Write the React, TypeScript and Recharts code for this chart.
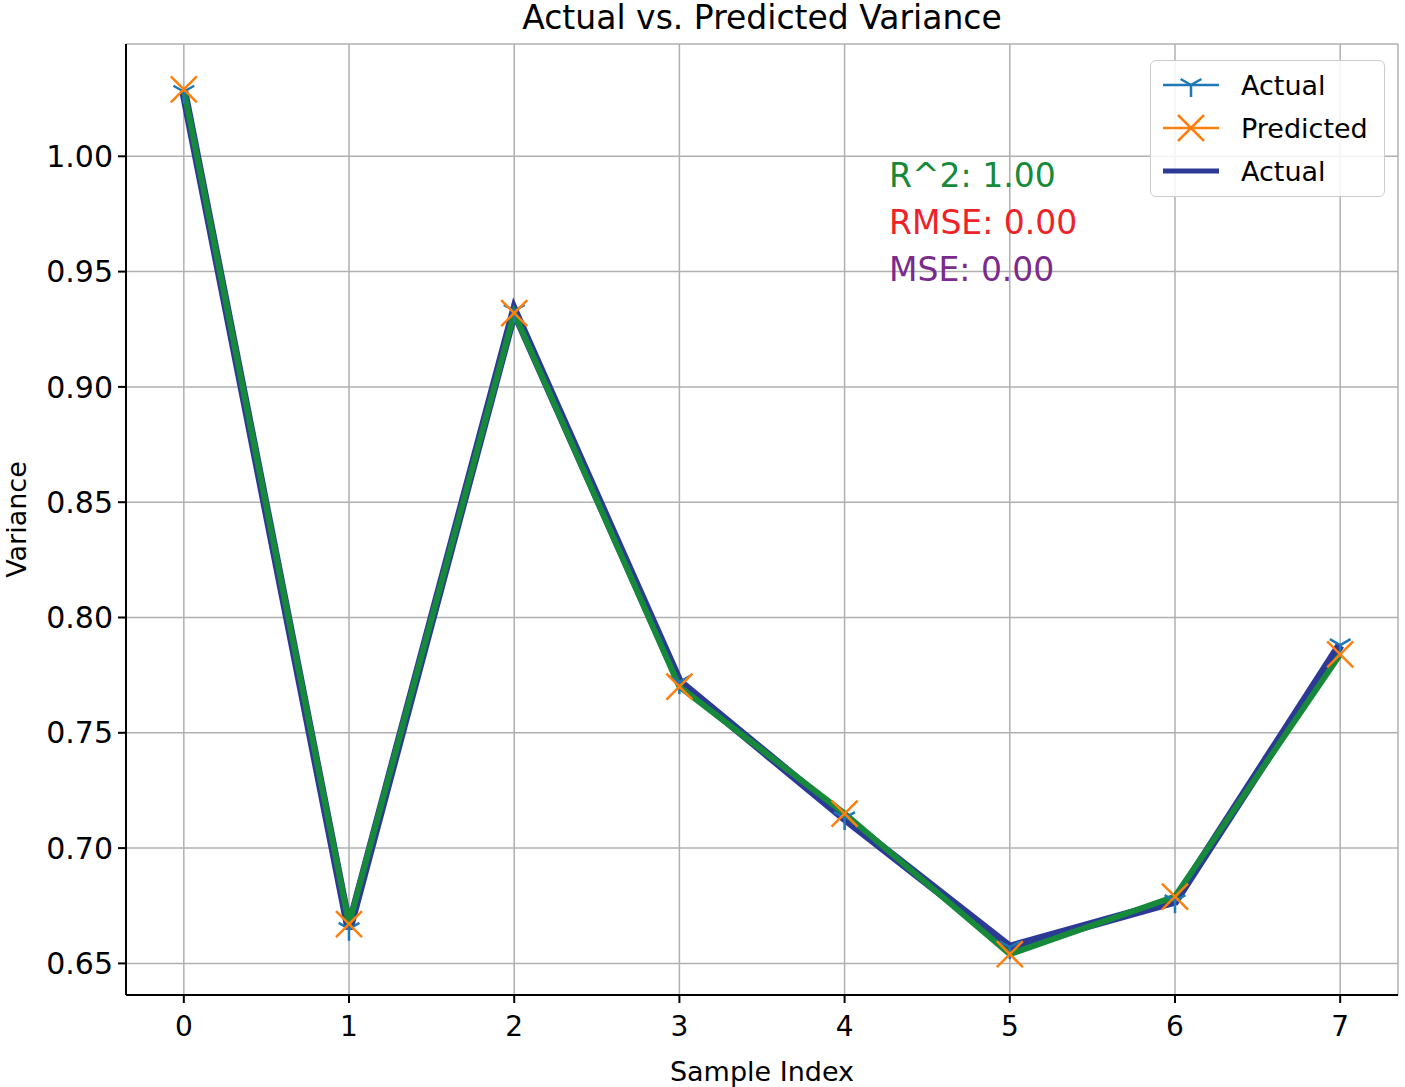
import React from 'react';
import { LineChart, Line, XAxis, YAxis, CartesianGrid } from 'recharts';

const sampleIndex = [0, 1, 2, 3, 4, 5, 6, 7];
const actualVariance = [1.028, 0.665, 0.933, 0.772, 0.713, 0.657, 0.677, 0.788];
const predictedVariance = [1.029, 0.667, 0.932, 0.770, 0.715, 0.654, 0.679, 0.784];
const xTicks = [0, 1, 2, 3, 4, 5, 6, 7];
const yTicks = [0.65, 0.7, 0.75, 0.8, 0.85, 0.9, 0.95, 1.0];
const legendRows = [
  { name: 'Actual', kind: 'tri' },
  { name: 'Predicted', kind: 'x' },
  { name: 'Actual', kind: 'thick' },
];
const metrics = [
  { label: 'R^2: 1.00', color: '#158a3a' },
  { label: 'RMSE: 0.00', color: '#ee2228' },
  { label: 'MSE: 0.00', color: '#7a2b8c' },
];

const BLUE = '#1f77b4';
const ORANGE = '#ff7f0e';
const NAVY = '#2c3a96';
const GREEN = '#16893a';
const FONT = '"DejaVu Sans", sans-serif';

const data = sampleIndex.map((idx, i) => ({
  index: idx,
  actual: actualVariance[i],
  predicted: predictedVariance[i],
}));

const TriDown = (props: any) => {
  const { cx, cy } = props;
  if (cx == null || cy == null) return null;
  const r = 12;
  return (
    <g stroke={BLUE} strokeWidth={2.5}>
      <line x1={cx} y1={cy} x2={cx} y2={cy + r} />
      <line x1={cx} y1={cy} x2={cx - 0.866 * r} y2={cy - 0.5 * r} />
      <line x1={cx} y1={cy} x2={cx + 0.866 * r} y2={cy - 0.5 * r} />
    </g>
  );
};

const XMark = (props: any) => {
  const { cx, cy } = props;
  if (cx == null || cy == null) return null;
  const r = 13;
  return (
    <g stroke={ORANGE} strokeWidth={2.5}>
      <line x1={cx - r} y1={cy - r} x2={cx + r} y2={cy + r} />
      <line x1={cx - r} y1={cy + r} x2={cx + r} y2={cy - r} />
    </g>
  );
};

// legend drawn by hand, sits over the top-right of the plot
const LegendBox = () => (
  <div
    style={{
      position: 'absolute',
      left: 1150,
      top: 60,
      width: 235,
      height: 137,
      border: '1.5px solid #cccccc',
      borderRadius: 6,
      background: 'rgba(255,255,255,0.85)',
      fontSize: 27,
      color: '#000',
      boxSizing: 'border-box',
    }}
  >
    {legendRows.map((row, i) => (
      <div key={i} style={{ display: 'flex', alignItems: 'center', height: 43, marginTop: i === 0 ? 3 : 0 }}>
        <svg width={88} height={43}>
          {row.kind === 'tri' && (
            <g stroke={BLUE} strokeWidth={2.5}>
              <line x1={12} y1={21} x2={68} y2={21} />
              <line x1={40} y1={21} x2={40} y2={33} />
              <line x1={40} y1={21} x2={29.6} y2={15} />
              <line x1={40} y1={21} x2={50.4} y2={15} />
            </g>
          )}
          {row.kind === 'x' && (
            <g stroke={ORANGE} strokeWidth={2.5}>
              <line x1={12} y1={21} x2={68} y2={21} />
              <line x1={27} y1={8} x2={53} y2={34} />
              <line x1={27} y1={34} x2={53} y2={8} />
            </g>
          )}
          {row.kind === 'thick' && <line x1={12} y1={21} x2={68} y2={21} stroke={NAVY} strokeWidth={5} />}
        </svg>
        <span style={{ marginLeft: 2 }}>{row.name}</span>
      </div>
    ))}
  </div>
);

export default function App() {
  return (
    <div style={{ position: 'absolute', left: 0, top: 0, width: 1405, height: 1087, background: '#fff', fontFamily: FONT }}>
      <div
        style={{
          position: 'absolute',
          top: -1,
          left: 126,
          width: 1272,
          textAlign: 'center',
          fontSize: 33,
          lineHeight: '38px',
          color: '#000',
        }}
      >
        Actual vs. Predicted Variance
      </div>
      <LineChart width={1405} height={1087} data={data} margin={{ top: 44, right: 7, bottom: 0, left: 0 }}>
        <CartesianGrid stroke="#b0b0b0" strokeWidth={1.5} />
        <XAxis
          dataKey="index"
          type="number"
          domain={[-0.35, 7.35]}
          ticks={xTicks}
          allowDataOverflow
          height={92}
          tickSize={8}
          tickMargin={13}
          tick={{ fontSize: 28, fill: '#000', fontFamily: FONT }}
          stroke="#000"
          strokeWidth={2}
          label={{ value: 'Sample Index', position: 'insideBottom', offset: 6, fontSize: 27, fill: '#000', fontFamily: FONT }}
        />
        <XAxis xAxisId="top" orientation="top" type="number" domain={[-0.35, 7.35]} height={0} tick={false} tickLine={false} stroke="#000" strokeWidth={2} />
        <YAxis
          type="number"
          domain={[0.6363, 1.0487]}
          ticks={yTicks}
          allowDataOverflow
          width={126}
          tickSize={8}
          tickMargin={5}
          tickFormatter={(v: number) => v.toFixed(2)}
          tick={{ fontSize: 30, fill: '#000', fontFamily: FONT }}
          stroke="#000"
          strokeWidth={2}
          label={{ value: 'Variance', angle: -90, position: 'insideLeft', offset: 16, fontSize: 27, fill: '#000', fontFamily: FONT, style: { textAnchor: 'middle' } }}
        />
        <YAxis yAxisId="right" orientation="right" type="number" domain={[0.6363, 1.0487]} width={0} tick={false} tickLine={false} stroke="#000" strokeWidth={2} />
        <Line dataKey="actual" stroke={BLUE} strokeWidth={2} dot={<TriDown />} activeDot={false} isAnimationActive={false} legendType="none" />
        <Line dataKey="predicted" stroke={ORANGE} strokeWidth={2} dot={<XMark />} activeDot={false} isAnimationActive={false} legendType="none" />
        <Line dataKey="actual" stroke={NAVY} strokeWidth={9} dot={false} activeDot={false} isAnimationActive={false} legendType="none" />
        <Line dataKey="predicted" stroke={GREEN} strokeWidth={6} dot={false} activeDot={false} isAnimationActive={false} legendType="none" />
      </LineChart>
      <LegendBox />
      {metrics.map((m, i) => (
        <div
          key={m.label}
          style={{ position: 'absolute', left: 889, top: 154 + i * 47, fontSize: 33, color: m.color, lineHeight: '44px' }}
        >
          {m.label}
        </div>
      ))}
    </div>
  );
}
